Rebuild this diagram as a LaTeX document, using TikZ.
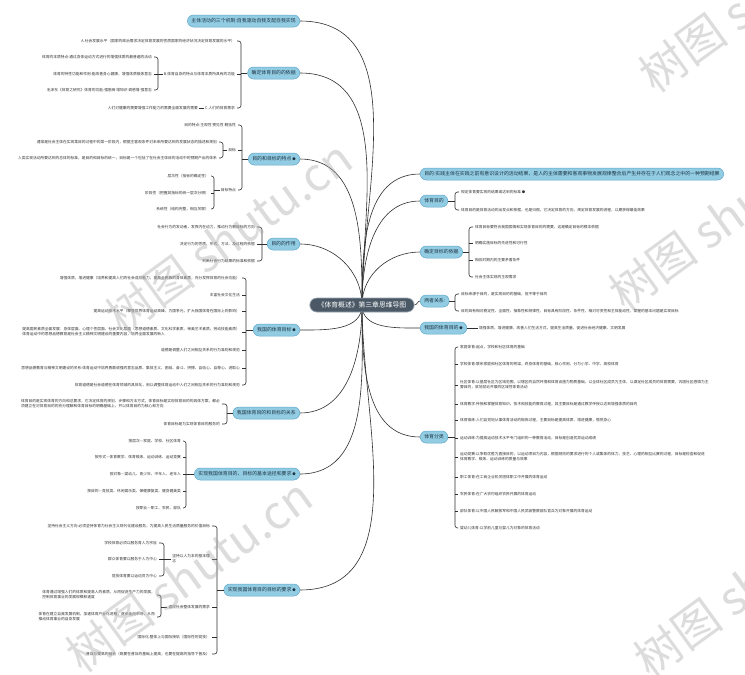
\documentclass[tikz,border=0pt]{standalone}
\usepackage{fontspec}
\setmainfont{Noto Sans CJK SC}
\usetikzlibrary{backgrounds}
\definecolor{rootfill}{HTML}{4B5967}
\definecolor{rootline}{HTML}{9AA6B2}
\definecolor{topfill}{HTML}{92CCE3}
\definecolor{topline}{HTML}{5FA8CA}
\definecolor{toptext}{HTML}{1E3442}
\definecolor{leaftext}{HTML}{333333}
\definecolor{linec}{HTML}{2F2F2F}
\definecolor{wmc}{HTML}{A8A8A8}
\newcommand\mkdot{\,{\fontsize{3.4}{3.4}\selectfont ●}}
\begin{document}
\begin{tikzpicture}[x=1pt,y=-1pt,
  root/.style={draw=rootline, fill=rootfill, text=white, rounded corners=7pt,
    font=\fontsize{6.8}{7.5}\selectfont, inner xsep=8pt, inner ysep=2pt,
    minimum height=14pt, line width=0.7pt},
  topic/.style={draw=topline, fill=topfill, text=toptext, rounded corners=6pt,
    font=\fontsize{4.9}{5.5}\selectfont, inner xsep=4pt, inner ysep=1.5pt,
    minimum height=12pt, line width=0.5pt},
  leaf/.style={font=\fontsize{3.75}{5}\selectfont, text=leaftext, inner sep=1pt, align=left},
  conn/.style={draw=linec, line width=0.6pt},
  brk/.style={draw=linec, line width=0.6pt, rounded corners=2.5pt},
  wmark/.style={font=\fontsize{46}{46}\selectfont, text=wmc, opacity=0.4, inner sep=0pt}
]
\useasboundingbox (0,0) rectangle (745,675);

% ---------- root ----------
\node[root] (c) at (362,305) {《体育概述》第三章思维导图};

% ---------- left topics ----------
\begin{scope}[every node/.append style={topic, anchor=east}]
\node (T1) at (300,21) {主体活动的三个机制:自我驱动自我支配自我实现};
\node (T2) at (300,73) {确定体育目的的依据};
\node (T3) at (300,159) {目的和目标的特点\mkdot};
\node (T4) at (300,244) {目的的作用};
\node (T5) at (300,330) {我国的体育目标\mkdot};
\node (T6) at (300,413) {我国体育目的和目标的关系};
\node (T7) at (300,474) {实现我国体育目的、目标的基本途径和要求\mkdot};
\node (T8) at (300,590) {实现我国体育目的目标的要求\mkdot};
\end{scope}

% ---------- right topics ----------
\begin{scope}[every node/.append style={topic, anchor=west}]
\node (R1) at (420,174) {目的:实践主体在实践之前有意识设计的活动结果，是人的主体需要和客观事物发展规律整合后产生并存在于人们观念之中的一种预期结果};
\node (R2) at (420,201) {体育目的};
\node (R3) at (420,252) {确定目标的依据};
\node (R4) at (420,301) {两者关系:};
\node (R5) at (420,328) {我国的体育目的\mkdot};
\node (R6) at (420,437) {体育分类};
\end{scope}

% ---------- left leaves ----------
\begin{scope}[every node/.append style={leaf, anchor=east}]
% T2
\node (a2a) at (236,41) {A.社会发展水平（国家的政治需求决定体育发展的性质国家的经济状况决定体育发展的水平）};
\node (a2b) at (236,74) {B.体育自身的特点与体育本质所具有的功能};
\node (a2c) at (236,108) {C.人们的体育需求};
\node (a2b1) at (153,57) {体育的本质特点:通过身体运动方式进行的增强体质的最普遍的活动};
\node (a2b2) at (153,74) {体育的特性功能和作用:能改善身心健康，增强体质锻炼意志};
\node (a2b3) at (153,90) {毛泽东《体育之研究》体育的功能:强筋骨 增知识 调感情 强意志};
\node (a2c1) at (199,108) {人们对健康的需要增强工作能力的需要全面发展的需要};
% T3
\node (a3a) at (237,125) {目的特点:主观性 预见性 概括性};
\node (a3b) at (237,150) {目标};
\node (a3c) at (237,190) {目标特点};
\node (a3b1) at (218,142) {通常是社会主体在实现某目的过程中的某一阶段内，根据主客观条件对未来所要达到的发展状态的描述和规划};
\node (a3b2) at (218,158) {人类实现活动所要达到的总体的标准，是目的和目标的统一，目标是一个包括了在社会主体目的活动中的预期产出的体系};
\node (a3c1) at (210,176) {层次性（指标的确定性）};
\node (a3c2) at (210,193) {阶段性（把握其指标的统一层次分明）};
\node (a3c3) at (210,209) {系统性（结构完整，相互关联）};
% T4
\node (a4a) at (256,227) {社会行为的发动者，发挥内在动力，推动行为朝目标的方向};
\node (a4b) at (256,244) {决定行为的性质、形式、方法、及过程的依据};
\node (a4c) at (256,261) {判断社会行为结果的标准和依据};
% T5
\node (a5a) at (241,278) {增强体质，增进健康（培养和提高人们的社会适应能力，提高全民族的身体素质，充分发挥体育的社会功能）};
\node (a5b) at (241,295) {丰富社会文化生活};
\node (a5c) at (241,311) {提高运动技术水平（攀登世界体育运动高峰，为国争光，扩大我国体育在国际上的影响）};
\node (a5d) at (241,332) {提高国民素质全面发展：身体层面、心理个性层面、社会文化层面（思想道德素质、文化科学素质、审美艺术素质、劳动技能素质）\\体育运动中的思想品德教育是社会主义精神文明建设的重要内容，培养全面发展的新人};
\node (a5e) at (241,350) {道德是调整人们之间相互关系的行为准则和规范};
\node (a5f) at (241,368) {思想品德教育与精神文明建设的关系:体育运动中培养勇敢顽强的意志品质、集体主义、团结、奋斗、拼搏、自信心、自尊心、进取心};
\node (a5g) at (241,385) {体育道德是社会道德在体育领域的具体化，用以调整体育运动中人们之间相互关系的行为准则和规范};
% T6
\node (a6a) at (221,404) {体育目的是实现体育的方向和总要求，它决定体育的规划、步骤和方法方式，体育目标是实现体育目的的具体方案，都必\\须建立在对体育目的的充分理解和体育目标的明确基础上，并以体育目的为核心和方向};
\node (a6b) at (221,424) {体育目标是为实现体育目的服务的};
% T7
\node (a7a) at (182,441) {按层次—家庭、学校、社区体育};
\node (a7b) at (182,457) {按形式—体育教学、体育锻炼、运动训练、运动竞赛};
\node (a7c) at (182,474) {按对象—婴幼儿、青少年、中年人、老年人};
\node (a7d) at (182,491) {按目的—竞技类、休闲娱乐类、保健康复类、健身健美类};
\node (a7e) at (182,508) {按职业—职工、农民、部队};
% T8
\node (a8a) at (211,526) {坚持社会主义方向:必须坚持体育为社会主义现代化建设服务，为提高人民生活质量服务的价值目标};
\node (a8b) at (211,559) {坚持以人为本的基本理\\念};
\node (a8b1) at (158,543) {学校体育必须以服务育人为宗旨};
\node (a8b2) at (158,559) {群众体育要以服务于人为中心};
\node (a8b3) at (158,576) {竞技体育要以运动员为中心};
\node (a8c) at (211,607) {适应社会整体发展的需求};
\node (a8c1) at (156,595) {体育通过增强人们的体质和提高人的素质，从而促进生产力的发展，\\控制体育事业的发展规模和速度};
\node (a8c2) at (156,617) {体育在建立自我发展机制，加速体育产业化进程，逐步走向市场，从而\\推动体育事业的自身发展};
\node (a8d) at (211,637) {国际化:整体上与国际接轨（国际性的竞技）};
\node (a8e) at (211,654) {普及与提高的结合（既要在普及的基础上提高，也要在提高的指导下普及）};
\end{scope}

% ---------- right leaves ----------
\begin{scope}[every node/.append style={leaf, anchor=west}]
\node (c2a) at (460,192) {规定体育要实现的结果或达到的标准\mkdot};
\node (c2b) at (460,210) {体育目的是体育活动的出发点和依据，也是归宿，它决定体育的方向，规定体育发展的进程，以期获得最佳效果};
\node (c3a) at (474,227) {体育目标要符合我国国情和实现体育目的的需要，这是确定目标的根本依据};
\node (c3b) at (474,243) {明确实施目标的先进性和可行性};
\node (c3c) at (474,260) {相应时期内的主要矛盾条件};
\node (c3d) at (474,277) {社会主体实现的主观需求};
\node (c4a) at (460,294) {目标来源于目的，是实现目的的基础，但不等于目的};
\node (c4b) at (460,311) {目的具有相对稳定性、全面性、抽象性和规律性，目标具有阶段性、条件性，相对可变性和主体能动性，掌握的基本问题是实现目标};
\node (c5) at (478,328) {增强体质，增进健康，改善人们生活方式，提高生活质量，促进社会经济健康、文明发展};
\node (c6a) at (459,347) {家庭体育:起点，学校和社区体育的基础};
\node (c6b) at (459,364) {学校体育:联系家庭和社区体育的桥梁，终身体育的基础，核心作用，分为小学、中学、高校体育};
\node (c6c) at (459,385) {社区体育:以基层社区为区域范围，以辖区的自然环境和体育设施为物质基础，以全体社区成员为主体，以满足社区成员的体育需要，巩固社区感情为主\\要目的，就地就近开展的区域性体育活动};
\node (c6d) at (459,404) {体育教学:传授和掌握体育知识、技术和技能的教育过程，其主要目标是通过教学传授以达到增强体质的目的};
\node (c6e) at (459,420) {体育锻炼:人们自觉地从事体育活动的锻炼过程，主要目标是提高体质、增进健康，愉悦身心};
\node (c6f) at (459,438) {运动训练:为提高运动技术水平专门组织的一种教育活动，目标是创造优异运动成绩};
\node (c6g) at (459,457) {运动竞赛:以争取优胜为直接目的，以运动项目为内容，根据规则的要求进行的个人或集体的体力、技艺、心理的相互比赛的过程，目标是检查和促进\\体育教学、锻炼、运动训练的质量与效果};
\node (c6h) at (459,477) {职工体育:在工商企业机关团体职工中开展的体育运动};
\node (c6i) at (459,494) {农民体育:在广大农村组织农民开展的体育运动};
\node (c6j) at (459,511) {部队体育:以中国人民解放军和中国人民武装警察部队官兵为对象开展的体育运动};
\node (c6k) at (459,528) {婴幼儿体育:以学前儿童与婴儿为对象的体育活动};
\end{scope}

% ---------- bracket points ----------
\coordinate (b2) at (241,73);
\coordinate (b2b) at (158,74);
\coordinate (b3) at (242,159);
\coordinate (b3b) at (223,150);
\coordinate (b3c) at (214,190);
\coordinate (b4) at (262,244);
\coordinate (b5) at (246,330);
\coordinate (b6) at (227,413);
\coordinate (b7) at (186,474);
\coordinate (b8) at (217,590);
\coordinate (b8b) at (164,559);
\coordinate (b8c) at (161,607);
\coordinate (r2) at (455,201);
\coordinate (r3) at (469,252);
\coordinate (r4) at (455,301);
\coordinate (r6) at (455,437);

\begin{scope}[on background layer]
\fill[white] (0,0) rectangle (745,675);
% root to topics
\draw[conn] (c.center) to[out=90,in=0] (T1.east);
\draw[conn] (c.center) to[out=90,in=0] (T2.east);
\draw[conn] (c.center) to[out=90,in=0] (T3.east);
\draw[conn] (c.center) to[out=90,in=0] (T4.east);
\draw[conn] (c.center) to[out=-90,in=0] (T5.east);
\draw[conn] (c.center) to[out=-90,in=0] (T6.east);
\draw[conn] (c.center) to[out=-90,in=0] (T7.east);
\draw[conn] (c.center) to[out=-90,in=0] (T8.east);
\draw[conn] (c.center) to[out=90,in=180] (R1.west);
\draw[conn] (c.center) to[out=90,in=180] (R2.west);
\draw[conn] (c.center) to[out=90,in=180] (R3.west);
\draw[conn] (c.east) to[out=0,in=180] (R4.west);
\draw[conn] (c.center) to[out=-90,in=180] (R5.west);
\draw[conn] (c.center) to[out=-90,in=180] (R6.west);
\end{scope}

% ---------- left brackets ----------
% T2
\draw[conn] (T2.west) -- (b2);
\draw[brk] ([xshift=1pt]a2a.east) -| (b2) |- ([xshift=1pt]a2c.east);
\draw[brk] ([xshift=1pt]a2b.east) -- (a2b.east -| b2);
\draw[conn] (a2b.west) -- (b2b);
\draw[brk] ([xshift=1pt]a2b1.east) -| (b2b) |- ([xshift=1pt]a2b3.east);
\draw[brk] ([xshift=1pt]a2b2.east) -- (a2b2.east -| b2b);
\draw[conn] (a2c.west) -- (a2c1.east);
% T3
\draw[conn] (T3.west) -- (b3);
\draw[brk] ([xshift=1pt]a3a.east) -| (b3) |- ([xshift=1pt]a3c.east);
\draw[brk] ([xshift=1pt]a3b.east) -- (a3b.east -| b3);
\draw[conn] (a3b.west) -- (b3b);
\draw[brk] ([xshift=1pt]a3b1.east) -| (b3b) |- ([xshift=1pt]a3b2.east);
\draw[conn] (a3c.west) -- (b3c);
\draw[brk] ([xshift=1pt]a3c1.east) -| (b3c) |- ([xshift=1pt]a3c3.east);
\draw[brk] ([xshift=1pt]a3c2.east) -- (a3c2.east -| b3c);
% T4
\draw[conn] (T4.west) -- (b4);
\draw[brk] ([xshift=1pt]a4a.east) -| (b4) |- ([xshift=1pt]a4c.east);
\draw[brk] ([xshift=1pt]a4b.east) -- (a4b.east -| b4);
% T5
\draw[conn] (T5.west) -- (b5);
\draw[brk] ([xshift=1pt]a5a.east) -| (b5) |- ([xshift=1pt]a5g.east);
\foreach \n in {a5b,a5c,a5d,a5e,a5f}
  \draw[brk] ([xshift=1pt]\n.east) -- (\n.east -| b5);
% T6
\draw[conn] (T6.west) -- (b6);
\draw[brk] ([xshift=1pt]a6a.east) -| (b6) |- ([xshift=1pt]a6b.east);
% T7
\draw[conn] (T7.west) -- (b7);
\draw[brk] ([xshift=1pt]a7a.east) -| (b7) |- ([xshift=1pt]a7e.east);
\foreach \n in {a7b,a7c,a7d}
  \draw[brk] ([xshift=1pt]\n.east) -- (\n.east -| b7);
% T8
\draw[conn] (T8.west) -- (b8);
\draw[brk] ([xshift=1pt]a8a.east) -| (b8) |- ([xshift=1pt]a8e.east);
\foreach \n in {a8b,a8c,a8d}
  \draw[brk] ([xshift=1pt]\n.east) -- (\n.east -| b8);
\draw[conn] (a8b.west) -- (b8b);
\draw[brk] ([xshift=1pt]a8b1.east) -| (b8b) |- ([xshift=1pt]a8b3.east);
\draw[brk] ([xshift=1pt]a8b2.east) -- (a8b2.east -| b8b);
\draw[conn] (a8c.west) -- (b8c);
\draw[brk] ([xshift=1pt]a8c1.east) -| (b8c) |- ([xshift=1pt]a8c2.east);

% ---------- right brackets ----------
\draw[conn] (R2.east) -- (r2);
\draw[brk] ([xshift=-1pt]c2a.west) -| (r2) |- ([xshift=-1pt]c2b.west);
\draw[conn] (R3.east) -- (r3);
\draw[brk] ([xshift=-1pt]c3a.west) -| (r3) |- ([xshift=-1pt]c3d.west);
\foreach \n in {c3b,c3c}
  \draw[brk] ([xshift=-1pt]\n.west) -- (\n.west -| r3);
\draw[conn] (R4.east) -- (r4);
\draw[brk] ([xshift=-1pt]c4a.west) -| (r4) |- ([xshift=-1pt]c4b.west);
\draw[conn] (R5.east) -- (c5.west);
\draw[conn] (R6.east) -- (r6);
\draw[brk] ([xshift=-1pt]c6a.west) -| (r6) |- ([xshift=-1pt]c6k.west);
\foreach \n in {c6b,c6c,c6d,c6e,c6f,c6g,c6h,c6i,c6j}
  \draw[brk] ([xshift=-1pt]\n.west) -- (\n.west -| r6);

% ---------- watermarks ----------
\node[wmark, anchor=west, rotate=36] (w1) at (112,322) {树图 shutu.cn};
\node[wmark, anchor=west, rotate=36] (w2) at (72,660) {树图 shutu.cn};
\node[wmark, anchor=west, rotate=36] (w3) at (645,80) {树图 shutu.cn};
\node[wmark, anchor=west, rotate=36] (w4) at (615,298) {树图 shutu.cn};
\node[wmark, anchor=west, rotate=36] (w5) at (640,665) {树图 shutu.cn};
\end{tikzpicture}
\end{document}
